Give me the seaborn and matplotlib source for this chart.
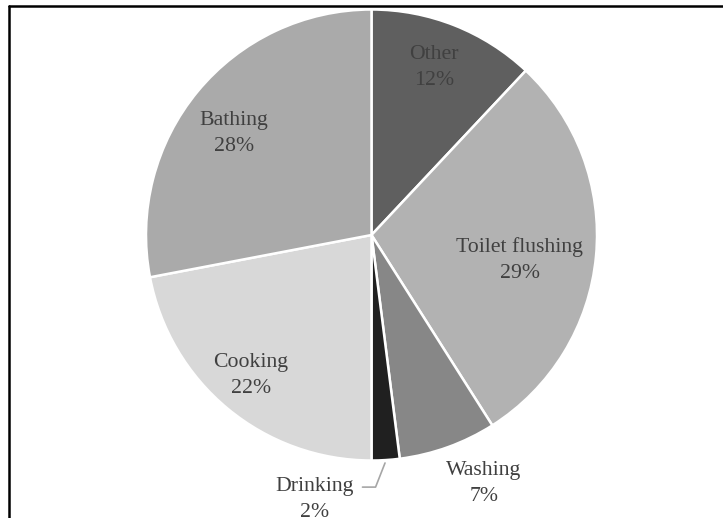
import matplotlib
matplotlib.use("Agg")
import matplotlib.pyplot as plt
from matplotlib.lines import Line2D
import seaborn as sns

# Household water use shares (%), clockwise from 12 o'clock
categories = ["Other", "Toilet flushing", "Washing", "Drinking", "Cooking", "Bathing"]
shares = [12, 29, 7, 2, 22, 28]
slice_colors = ["#5f5f5f", "#b2b2b2", "#878787", "#202020", "#d8d8d8", "#aaaaaa"]

# label anchor points (axes data units, pie radius = 1)
label_xy = {
    "Other": (0.278, 0.743),
    "Toilet flushing": (0.657, -0.111),
    "Washing": (0.499, -1.100),
    "Drinking": (-0.251, -1.175),
    "Cooking": (-0.534, -0.625),
    "Bathing": (-0.609, 0.452),
}

sns.set_theme(style="white")
plt.rcParams["font.family"] = ["Liberation Serif", "DejaVu Serif"]

W, H, DPI = 723, 518, 100
R_PX = 225.5
CX, CY = 371.5, 235.0

fig = plt.figure(figsize=(W / DPI, H / DPI), dpi=DPI)
ax = fig.add_axes([0, 0, 1, 1])

ax.pie(
    shares,
    colors=slice_colors,
    startangle=90,
    counterclock=False,
    radius=1.0,
    wedgeprops=dict(edgecolor="white", linewidth=1.8),
)

ax.set_xlim(-CX / R_PX, (W - CX) / R_PX)
ax.set_ylim(-(H - CY) / R_PX, CY / R_PX)
ax.set_aspect("equal")
ax.axis("off")

for name, val in zip(categories, shares):
    x, y = label_xy[name]
    ax.text(x, y, f"{name}\n{val}%", ha="center", va="center",
            fontsize=15.7, color="#404040", linespacing=1.5)

# leader line for the small slice
ax.add_line(Line2D([0.060, 0.018, -0.040], [-1.011, -1.118, -1.118],
                   color="#a6a6a6", linewidth=1.2))

# frame along the top and left edges
fig.add_artist(Line2D([8.5 / W, 1.0], [1 - 5.5 / H, 1 - 5.5 / H],
                      transform=fig.transFigure, color="black", linewidth=1.8))
fig.add_artist(Line2D([8.5 / W, 8.5 / W], [0.0, 1 - 5.5 / H],
                      transform=fig.transFigure, color="black", linewidth=1.8))

fig.savefig("out.png", dpi=DPI, facecolor="white")
